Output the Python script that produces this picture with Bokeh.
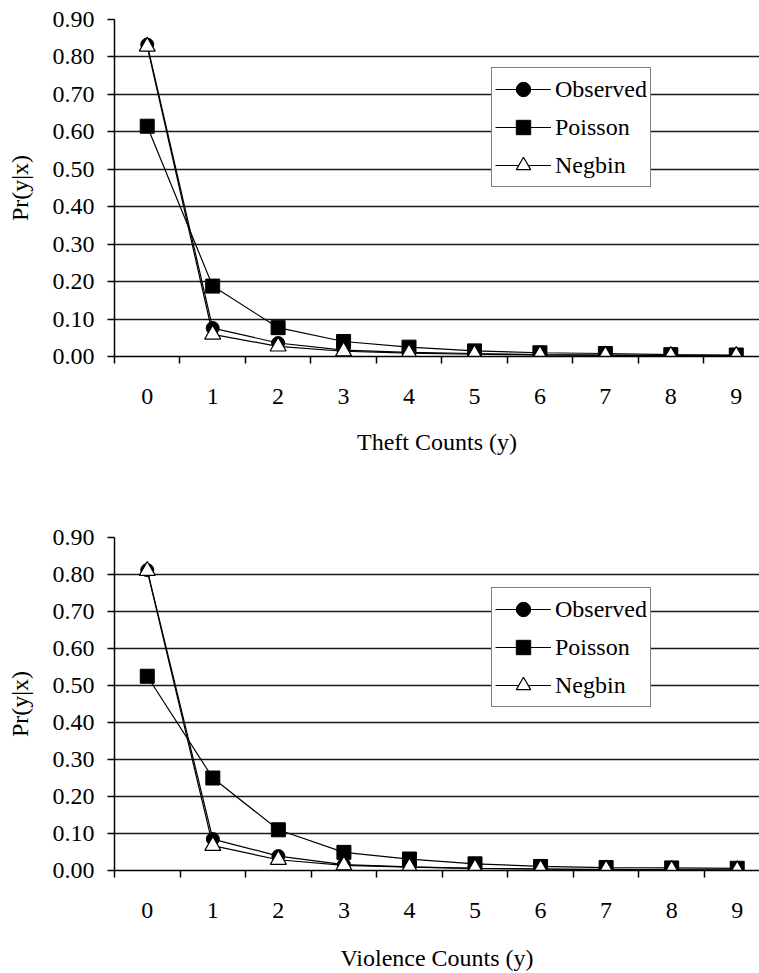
from bokeh.plotting import figure
from bokeh.models import Range1d, FixedTicker, NumeralTickFormatter, Legend, LegendItem
from bokeh.layouts import column
from bokeh.embed import file_html
from bokeh.resources import INLINE

counts = [0, 1, 2, 3, 4, 5, 6, 7, 8, 9]
count_labels = ["0", "1", "2", "3", "4", "5", "6", "7", "8", "9"]
y_ticks = [0.0, 0.1, 0.2, 0.3, 0.4, 0.5, 0.6, 0.7, 0.8, 0.9]

theft_observed = [0.833, 0.076, 0.036, 0.017, 0.011, 0.008, 0.005, 0.004, 0.003, 0.002]
theft_poisson = [0.615, 0.188, 0.077, 0.040, 0.025, 0.015, 0.010, 0.008, 0.005, 0.004]
theft_negbin = [0.828, 0.059, 0.027, 0.014, 0.009, 0.006, 0.004, 0.003, 0.002, 0.002]

violence_observed = [0.812, 0.085, 0.039, 0.016, 0.010, 0.006, 0.004, 0.002, 0.002, 0.001]
violence_poisson = [0.525, 0.250, 0.110, 0.049, 0.031, 0.018, 0.011, 0.008, 0.007, 0.006]
violence_negbin = [0.810, 0.067, 0.029, 0.014, 0.009, 0.006, 0.004, 0.003, 0.002, 0.001]

FONT = "Liberation Serif"
FS = "24px"


def make_chart(xlabel, obs, poi, neg, height, b_top, b_bottom, b_left, x_end,
               legend_xy, tick_standoff, label_standoff):
    p = figure(width=759, height=height, output_backend="svg", toolbar_location=None,
               x_range=Range1d(-0.5, x_end), y_range=Range1d(0, 0.9),
               min_border_left=b_left, min_border_right=0,
               min_border_top=b_top, min_border_bottom=b_bottom)
    p.outline_line_color = None
    p.background_fill_color = "white"
    p.border_fill_color = "white"

    # x axis: labels at categories, tick marks between categories
    p.xaxis.ticker = FixedTicker(ticks=counts,
                                 minor_ticks=[c - 0.5 for c in counts] + [9.5])
    p.xaxis.major_label_overrides = {c: s for c, s in zip(counts, count_labels)}
    p.xaxis.major_tick_out = 0
    p.xaxis.major_tick_in = 0
    p.xaxis.minor_tick_out = 7
    p.xaxis.minor_tick_in = 0
    p.xaxis.minor_tick_line_color = "black"
    p.xaxis.minor_tick_line_width = 1.5
    p.xaxis.axis_line_color = "black"
    p.xaxis.axis_line_width = 1.5
    p.xaxis.major_label_standoff = tick_standoff
    p.xaxis.axis_label = xlabel
    p.xaxis.axis_label_standoff = label_standoff

    p.yaxis.ticker = FixedTicker(ticks=y_ticks, minor_ticks=[])
    p.yaxis.formatter = NumeralTickFormatter(format="0.00")
    p.yaxis.major_tick_out = 7
    p.yaxis.major_tick_in = 0
    p.yaxis.major_tick_line_color = "black"
    p.yaxis.major_tick_line_width = 1.5
    p.yaxis.axis_line_color = "black"
    p.yaxis.axis_line_width = 1.5
    p.yaxis.major_label_standoff = 13
    p.yaxis.axis_label = "Pr(y|x)"
    p.yaxis.axis_label_standoff = 17

    for ax in (p.xaxis[0], p.yaxis[0]):
        ax.major_label_text_font = FONT
        ax.major_label_text_font_size = FS
        ax.major_label_text_color = "black"
        ax.axis_label_text_font = FONT
        ax.axis_label_text_font_size = FS
        ax.axis_label_text_font_style = "normal"
        ax.axis_label_text_color = "black"

    p.xgrid.visible = False
    p.ygrid.ticker = FixedTicker(ticks=y_ticks, minor_ticks=[])
    p.ygrid.grid_line_color = "#1a1a1a"
    p.ygrid.grid_line_width = 1.3

    lo = p.line(counts, obs, line_color="black", line_width=1.2)
    so = p.scatter(counts, obs, marker="circle", size=13,
                   fill_color="black", line_color="black")
    lp = p.line(counts, poi, line_color="black", line_width=1.2)
    sp = p.scatter(counts, poi, marker="square", size=14,
                   fill_color="black", line_color="black")
    ln = p.line(counts, neg, line_color="black", line_width=1.2)
    sn = p.scatter(counts, neg, marker="triangle", size=16,
                   fill_color="white", line_color="black", line_width=1.2)

    legend = Legend(items=[
        LegendItem(label="Observed", renderers=[lo, so]),
        LegendItem(label="Poisson", renderers=[lp, sp]),
        LegendItem(label="Negbin", renderers=[ln, sn]),
    ], location=legend_xy)
    legend.label_text_font = FONT
    legend.label_text_font_size = FS
    legend.label_text_color = "black"
    legend.glyph_width = 56
    legend.glyph_height = 36
    legend.label_height = 36
    legend.label_standoff = 4
    legend.spacing = 2
    legend.padding = 3
    legend.margin = 0
    legend.border_line_color = "black"
    legend.border_line_width = 1.2
    legend.background_fill_color = "white"
    legend.background_fill_alpha = 1.0
    p.add_layout(legend, "center")
    return p


top = make_chart("Theft Counts (y)", theft_observed, theft_poisson, theft_negbin,
                 height=478, b_top=19, b_bottom=122, b_left=112, x_end=9.355,
                 legend_xy=(377, 169), tick_standoff=25, label_standoff=22)
bottom = make_chart("Violence Counts (y)", violence_observed, violence_poisson, violence_negbin,
                    height=495, b_top=59, b_bottom=101, b_left=114, x_end=9.34,
                    legend_xy=(377, 163), tick_standoff=25, label_standoff=24)

layout = column(top, bottom, spacing=0)
open("out.html", "w").write(file_html(layout, INLINE))
